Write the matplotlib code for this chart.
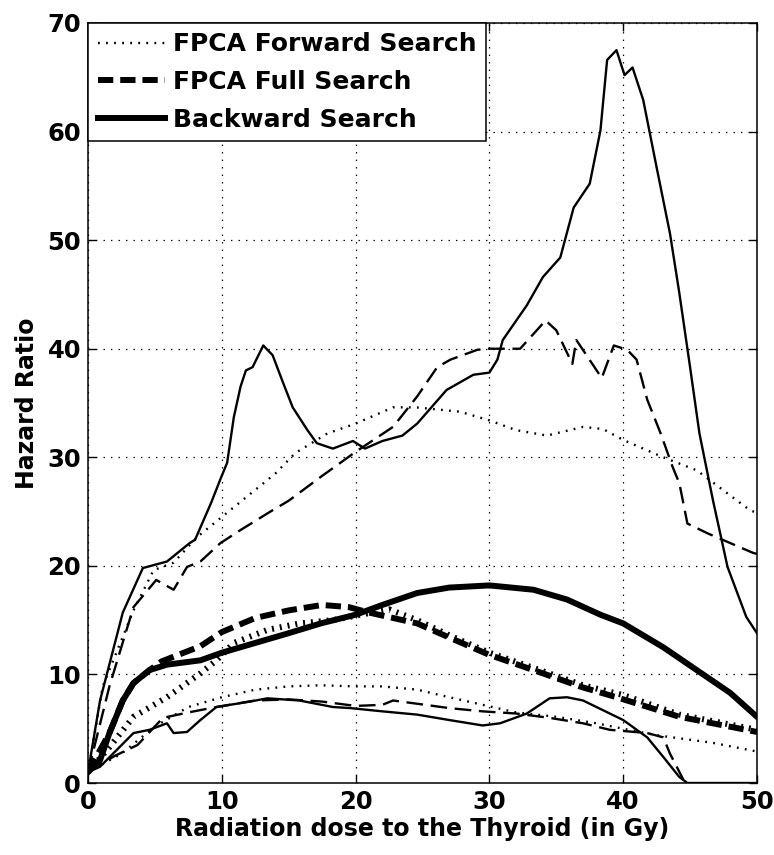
import matplotlib
matplotlib.use("Agg")
import matplotlib.pyplot as plt

plt.rcParams['font.family'] = ['DejaVu Sans']
plt.rcParams['font.weight'] = 'bold'
plt.rcParams['lines.scale_dashes'] = False

# Backward Search: estimate and band
backward_x = [0, 0.9, 1.6, 2.6, 3.4, 4.6, 5.9, 8.4, 10, 12.5, 15, 17.4, 20, 22, 24.6, 27, 30,
              33.3, 35.8, 38.3, 40, 43, 45.5, 48, 50]
backward_y = [1, 2.1, 4.6, 7.6, 9.2, 10.4, 10.9, 11.3, 12.0, 12.9, 13.8, 14.7, 15.5, 16.4, 17.5,
              18.0, 18.2, 17.8, 16.9, 15.5, 14.7, 12.5, 10.4, 8.3, 6.1]
backward_hi_x = [0, 0.9, 2.6, 4.1, 5.9, 7.6, 8.0, 9.2, 9.9, 10.4, 10.9, 11.4, 11.8, 12.3, 13.1,
                 13.8, 14.6, 15.3, 16.4, 17.1, 18.3, 19.8, 20.7, 22, 23.5, 24.6, 26.8, 28.8, 30,
                 30.6, 31, 32.8, 34, 35.3, 36.3, 37.5, 38.3, 38.8, 39.5, 40.1, 40.7, 41.5, 42.5,
                 43.5, 44.2, 45, 45.7, 46.7, 47.8, 49.2, 50]
backward_hi_y = [1, 7.6, 15.7, 19.8, 20.4, 22.1, 22.4, 25.8, 28.0, 29.5, 33.7, 36.5, 38.0, 38.3,
                 40.3, 39.4, 36.8, 34.6, 32.5, 31.3, 30.8, 31.5, 30.8, 31.5, 32.0, 33.1, 36.2,
                 37.6, 37.8, 39.0, 40.8, 44.0, 46.6, 48.4, 53.0, 55.2, 60.1, 66.6, 67.5, 65.2,
                 65.9, 62.9, 56.7, 50.6, 45.1, 38.3, 32.2, 26.1, 19.9, 15.3, 13.8]
backward_lo_x = [0, 0.9, 3.4, 4.6, 5.9, 6.4, 7.4, 8.4, 9.6, 12.1, 13.4, 15.8, 18.3, 19.6, 22,
                 24.6, 27, 29.5, 30.8, 32.8, 34.5, 35.8, 37, 39, 40, 41.8, 43, 44.2, 44.8, 50]
backward_lo_y = [1, 1.5, 4.6, 4.9, 5.5, 4.6, 4.7, 5.8, 7.0, 7.5, 7.8, 7.6, 7.0, 6.9, 6.6, 6.3,
                 5.8, 5.3, 5.5, 6.4, 7.8, 7.9, 7.6, 6.4, 5.8, 4.2, 2.4, 0.55, 0, 0]

# FPCA Full Search: estimate and band
full_x = [0, 1.6, 2.6, 3.4, 4.6, 5.5, 8.4, 10, 12.5, 15, 17.5, 19.5, 21, 24.6, 27, 30, 33.3,
          37, 39.5, 44.2, 50]
full_y = [1, 4.6, 7.6, 9.2, 10.4, 11.2, 12.6, 13.9, 15.2, 15.9, 16.4, 16.2, 15.7, 14.7, 13.4,
          11.8, 10.4, 8.8, 7.9, 6.1, 4.7]
full_hi_x = [0, 1.6, 3.4, 5.1, 6.4, 7.4, 8.4, 9.9, 11.4, 13.5, 15, 17.4, 20, 22.8, 24.6, 26.1,
             27.1, 29.1, 30, 32.3, 34.2, 35, 36.2, 36.5, 38.4, 39.3, 40.3, 41, 41.8, 42.8, 43.7,
             44.2, 44.8, 46.3, 49.7, 50]
full_hi_y = [1, 8.9, 16.2, 18.7, 17.8, 19.9, 20.4, 22.1, 23.3, 24.9, 26.0, 28.2, 30.5, 32.8,
             35.6, 38.3, 39.0, 39.9, 40.0, 40.0, 42.6, 41.7, 38.6, 40.8, 37.3, 40.3, 39.9, 39.0,
             35.3, 32.2, 29.1, 27.6, 23.9, 23.0, 21.2, 21.1]
full_lo_x = [0, 2, 3.7, 5.6, 7.5, 9.6, 12.5, 15, 17.5, 20, 22, 22.8, 24.6, 27, 29.5, 32, 34.5,
             37, 39, 41.8, 43, 43.5, 44, 44.5]
full_lo_y = [1, 2.5, 3.5, 6.0, 6.5, 7.0, 7.6, 7.7, 7.5, 7.1, 7.2, 7.6, 7.3, 6.9, 6.6, 6.4, 6.0,
             5.5, 4.9, 4.6, 4.2, 2.7, 1.5, 0.3]

# FPCA Forward Search: estimate and band
forward_x = [0, 1.6, 3.4, 5.9, 8.4, 9.6, 10.9, 13.4, 15.8, 18.3, 20.8, 22.5, 24.6, 27, 30, 33.3,
             37, 40, 44.2, 50]
forward_y = [1, 3.3, 6.1, 7.9, 10.1, 11.3, 12.9, 14.1, 14.7, 15.0, 15.6, 16.0, 15.0, 13.6, 12.0,
             10.6, 9.0, 8.1, 6.3, 4.9]
forward_hi_x = [0, 1.1, 3.4, 4.9, 6.4, 8.2, 10.5, 12.5, 14, 15.5, 17.9, 20, 22.8, 24.5, 27.8, 30,
                32, 34.3, 37, 38.5, 40, 43, 45.5, 49.5, 50]
forward_hi_y = [1, 8.9, 15.9, 19.6, 20.3, 22.7, 25.0, 27.0, 28.5, 30.4, 32.2, 33.1, 34.6, 34.6,
                34.2, 33.4, 32.5, 32.0, 32.8, 32.6, 31.6, 30.0, 28.8, 25.1, 24.9]
forward_lo_x = [0, 2.5, 5, 7.5, 10, 12.5, 15, 17.4, 20, 22, 24.6, 27, 29.5, 32, 35, 38, 40, 42.5,
                46.7, 50]
forward_lo_y = [1, 2.7, 5.2, 7.0, 7.9, 8.6, 8.9, 9.0, 8.9, 8.9, 8.6, 7.9, 7.2, 6.5, 6.1, 5.5,
                5.0, 4.4, 3.7, 2.9]

x_ticks = [0, 10, 20, 30, 40, 50]
y_ticks = [0, 10, 20, 30, 40, 50, 60, 70]

thick = 4.3
thin = 1.7
dot_thick = (1.4, 4.3)
dot_thin = (1.3, 4.5)
dash_thick = (11, 5)
dash_thin = (12, 5.5)

fig = plt.figure(figsize=(7.74, 8.55), dpi=100)
ax = fig.add_axes([0.1137, 0.0842, 0.8643, 0.8889])

# band curves (thin)
ln_fwd, = ax.plot(forward_hi_x, forward_hi_y, color='black', lw=thin, dashes=dot_thin)
ax.plot(forward_lo_x, forward_lo_y, color='black', lw=thin, dashes=dot_thin)
ax.plot(full_hi_x, full_hi_y, color='black', lw=thin, dashes=dash_thin)
ax.plot(full_lo_x, full_lo_y, color='black', lw=thin, dashes=dash_thin)
ax.plot(backward_hi_x, backward_hi_y, color='black', lw=thin)
ax.plot(backward_lo_x, backward_lo_y, color='black', lw=thin)

# estimates (thick)
ax.plot(forward_x, forward_y, color='black', lw=thick, dashes=dot_thick)
ln_full, = ax.plot(full_x, full_y, color='black', lw=thick, dashes=dash_thick)
ln_back, = ax.plot(backward_x, backward_y, color='black', lw=thick)

ax.set_xlim(0, 50)
ax.set_ylim(0, 70)
ax.set_xticks(x_ticks)
ax.set_yticks(y_ticks)
ax.grid(True, color='black', lw=0.9, linestyle=(0, (1, 4.4)))
ax.tick_params(direction='in', length=6, width=1, top=True, right=True,
               labelsize=17.5, pad=5)
for lab in ax.get_xticklabels() + ax.get_yticklabels():
    lab.set_fontweight('bold')
for sp in ax.spines.values():
    sp.set_linewidth(1.1)

ax.set_xlabel('Radiation dose to the Thyroid (in Gy)', fontsize=17, fontweight='bold', labelpad=2)
ax.set_ylabel('Hazard Ratio', fontsize=17, fontweight='bold', labelpad=6)

leg = ax.legend([ln_fwd, ln_full, ln_back],
                ['FPCA Forward Search', 'FPCA Full Search', 'Backward Search'],
                loc='upper left', borderaxespad=0, fancybox=False, framealpha=1,
                edgecolor='black', prop={'size': 18, 'weight': 'bold'},
                handlelength=2.7, handletextpad=0.3, labelspacing=0.55, borderpad=0.38)
leg.get_frame().set_linewidth(1.1)

fig.savefig('out.png', dpi=100)
